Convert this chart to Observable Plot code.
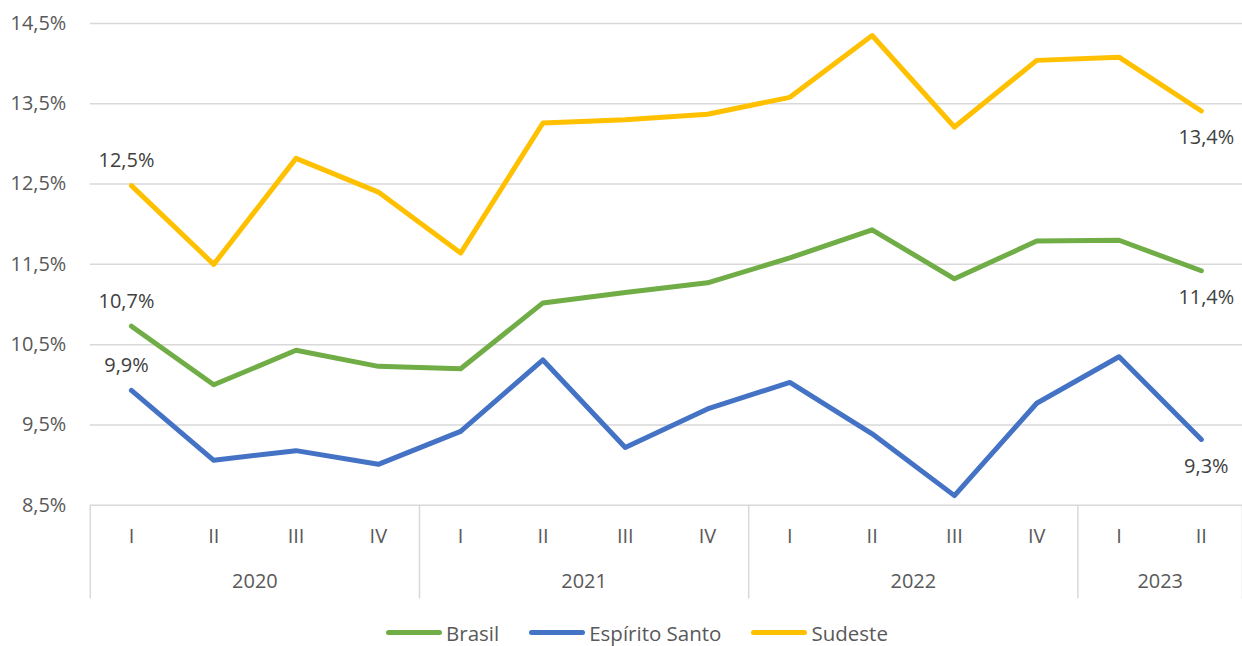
<!DOCTYPE html>
<html>
<head>
<meta charset="utf-8">
<script src="https://cdn.jsdelivr.net/npm/d3@7"></script>
<script src="https://cdn.jsdelivr.net/npm/@observablehq/plot@0.6"></script>
<style>
  body { margin: 0; background: #fff; font-family: "Open Sans", sans-serif; overflow: hidden; }
  #legend { display: flex; justify-content: center; align-items: center; height: 36px; margin-top: 6px; margin-left: 16px;
            font-size: 20.5px; color: #595959; width: 1242px; }
  .item { display: flex; align-items: center; margin: 0 15px; }
  .sw { width: 56px; height: 5px; border-radius: 3px; margin-right: 4px; }
</style>
</head>
<body>
<div id="chart"></div>
<div id="legend"></div>
<script>
const quarters = ["I","II","III","IV","I","II","III","IV","I","II","III","IV","I","II"];
const years = ["2020","2021","2022","2023"];
const yearCenters = [1.5, 5.5, 9.5, 12.5];
const yearBounds = [-0.5, 3.5, 7.5, 11.5, 13.5];
const series = ["Brasil", "Espírito Santo", "Sudeste"];
const colors = ["#70AD47", "#4472C4", "#FFC000"];
const brasil  = [10.73, 10.00, 10.43, 10.23, 10.20, 11.02, 11.15, 11.27, 11.58, 11.93, 11.32, 11.79, 11.80, 11.42];
const es      = [9.93, 9.06, 9.18, 9.01, 9.42, 10.31, 9.22, 9.70, 10.03, 9.39, 8.62, 9.77, 10.35, 9.32];
const sudeste = [12.48, 11.50, 12.82, 12.40, 11.64, 13.26, 13.30, 13.37, 13.58, 14.35, 13.21, 14.04, 14.08, 13.41];
const yTicks = [8.5, 9.5, 10.5, 11.5, 12.5, 13.5, 14.5];

const values = [brasil, es, sudeste];
const data = [];
series.forEach((s, k) => values[k].forEach((v, i) => data.push({i, serie: s, value: v})));
const n = quarters.length;
const first = data.filter(d => d.i === 0);
const last = data.filter(d => d.i === n - 1);
const fmt = v => v.toFixed(1).replace(".", ",") + "%";

const chart = Plot.plot({
  width: 1245,
  height: 610,
  marginLeft: 90,
  marginRight: 0,
  marginTop: 23,
  marginBottom: 104,
  style: {fontFamily: "Open Sans, sans-serif", fontSize: "20px", color: "#595959", background: "#fff"},
  x: {type: "linear", domain: [-0.5, n - 0.5], axis: null},
  y: {domain: [8.5, 14.5], axis: null},
  color: {domain: series, range: colors},
  marks: [
    Plot.gridY(yTicks, {stroke: "#d9d9d9", strokeOpacity: 1, strokeWidth: 1.5}),
    Plot.axisY(yTicks, {tickSize: 0, tickPadding: 24, tickFormat: fmt, fill: "#595959", fontSize: 20, label: null}),
    Plot.axisX(yearBounds, {tickSize: 94, tickFormat: () => "", stroke: "#d9d9d9", strokeWidth: 1.5, label: null}),
    Plot.axisX(d3.range(n), {tickSize: 0, tickPadding: 24, tickFormat: i => quarters[i], fill: "#595959", fontSize: 20, label: null}),
    Plot.axisX(yearCenters, {tickSize: 0, tickPadding: 69, tickFormat: (d, j) => years[j], fill: "#595959", fontSize: 20, label: null}),
    Plot.line(data, {x: "i", y: "value", z: "serie", stroke: "serie", strokeWidth: 5, strokeLinejoin: "round", strokeLinecap: "round"}),
    Plot.text(first, {x: "i", y: "value", text: d => fmt(d.value), dy: -25, dx: -5, fill: "#404040", fontSize: 20}),
    Plot.text(last, {x: "i", y: "value", text: d => fmt(d.value), dy: 27, dx: 5, fill: "#404040", fontSize: 20})
  ]
});
document.getElementById("chart").appendChild(chart);

const legend = document.getElementById("legend");
series.forEach((s, k) => {
  const it = document.createElement("div");
  it.className = "item";
  const sw = document.createElement("div");
  sw.className = "sw";
  sw.style.background = colors[k];
  const t = document.createElement("span");
  t.textContent = s;
  it.appendChild(sw);
  it.appendChild(t);
  legend.appendChild(it);
});
</script>
</body>
</html>
